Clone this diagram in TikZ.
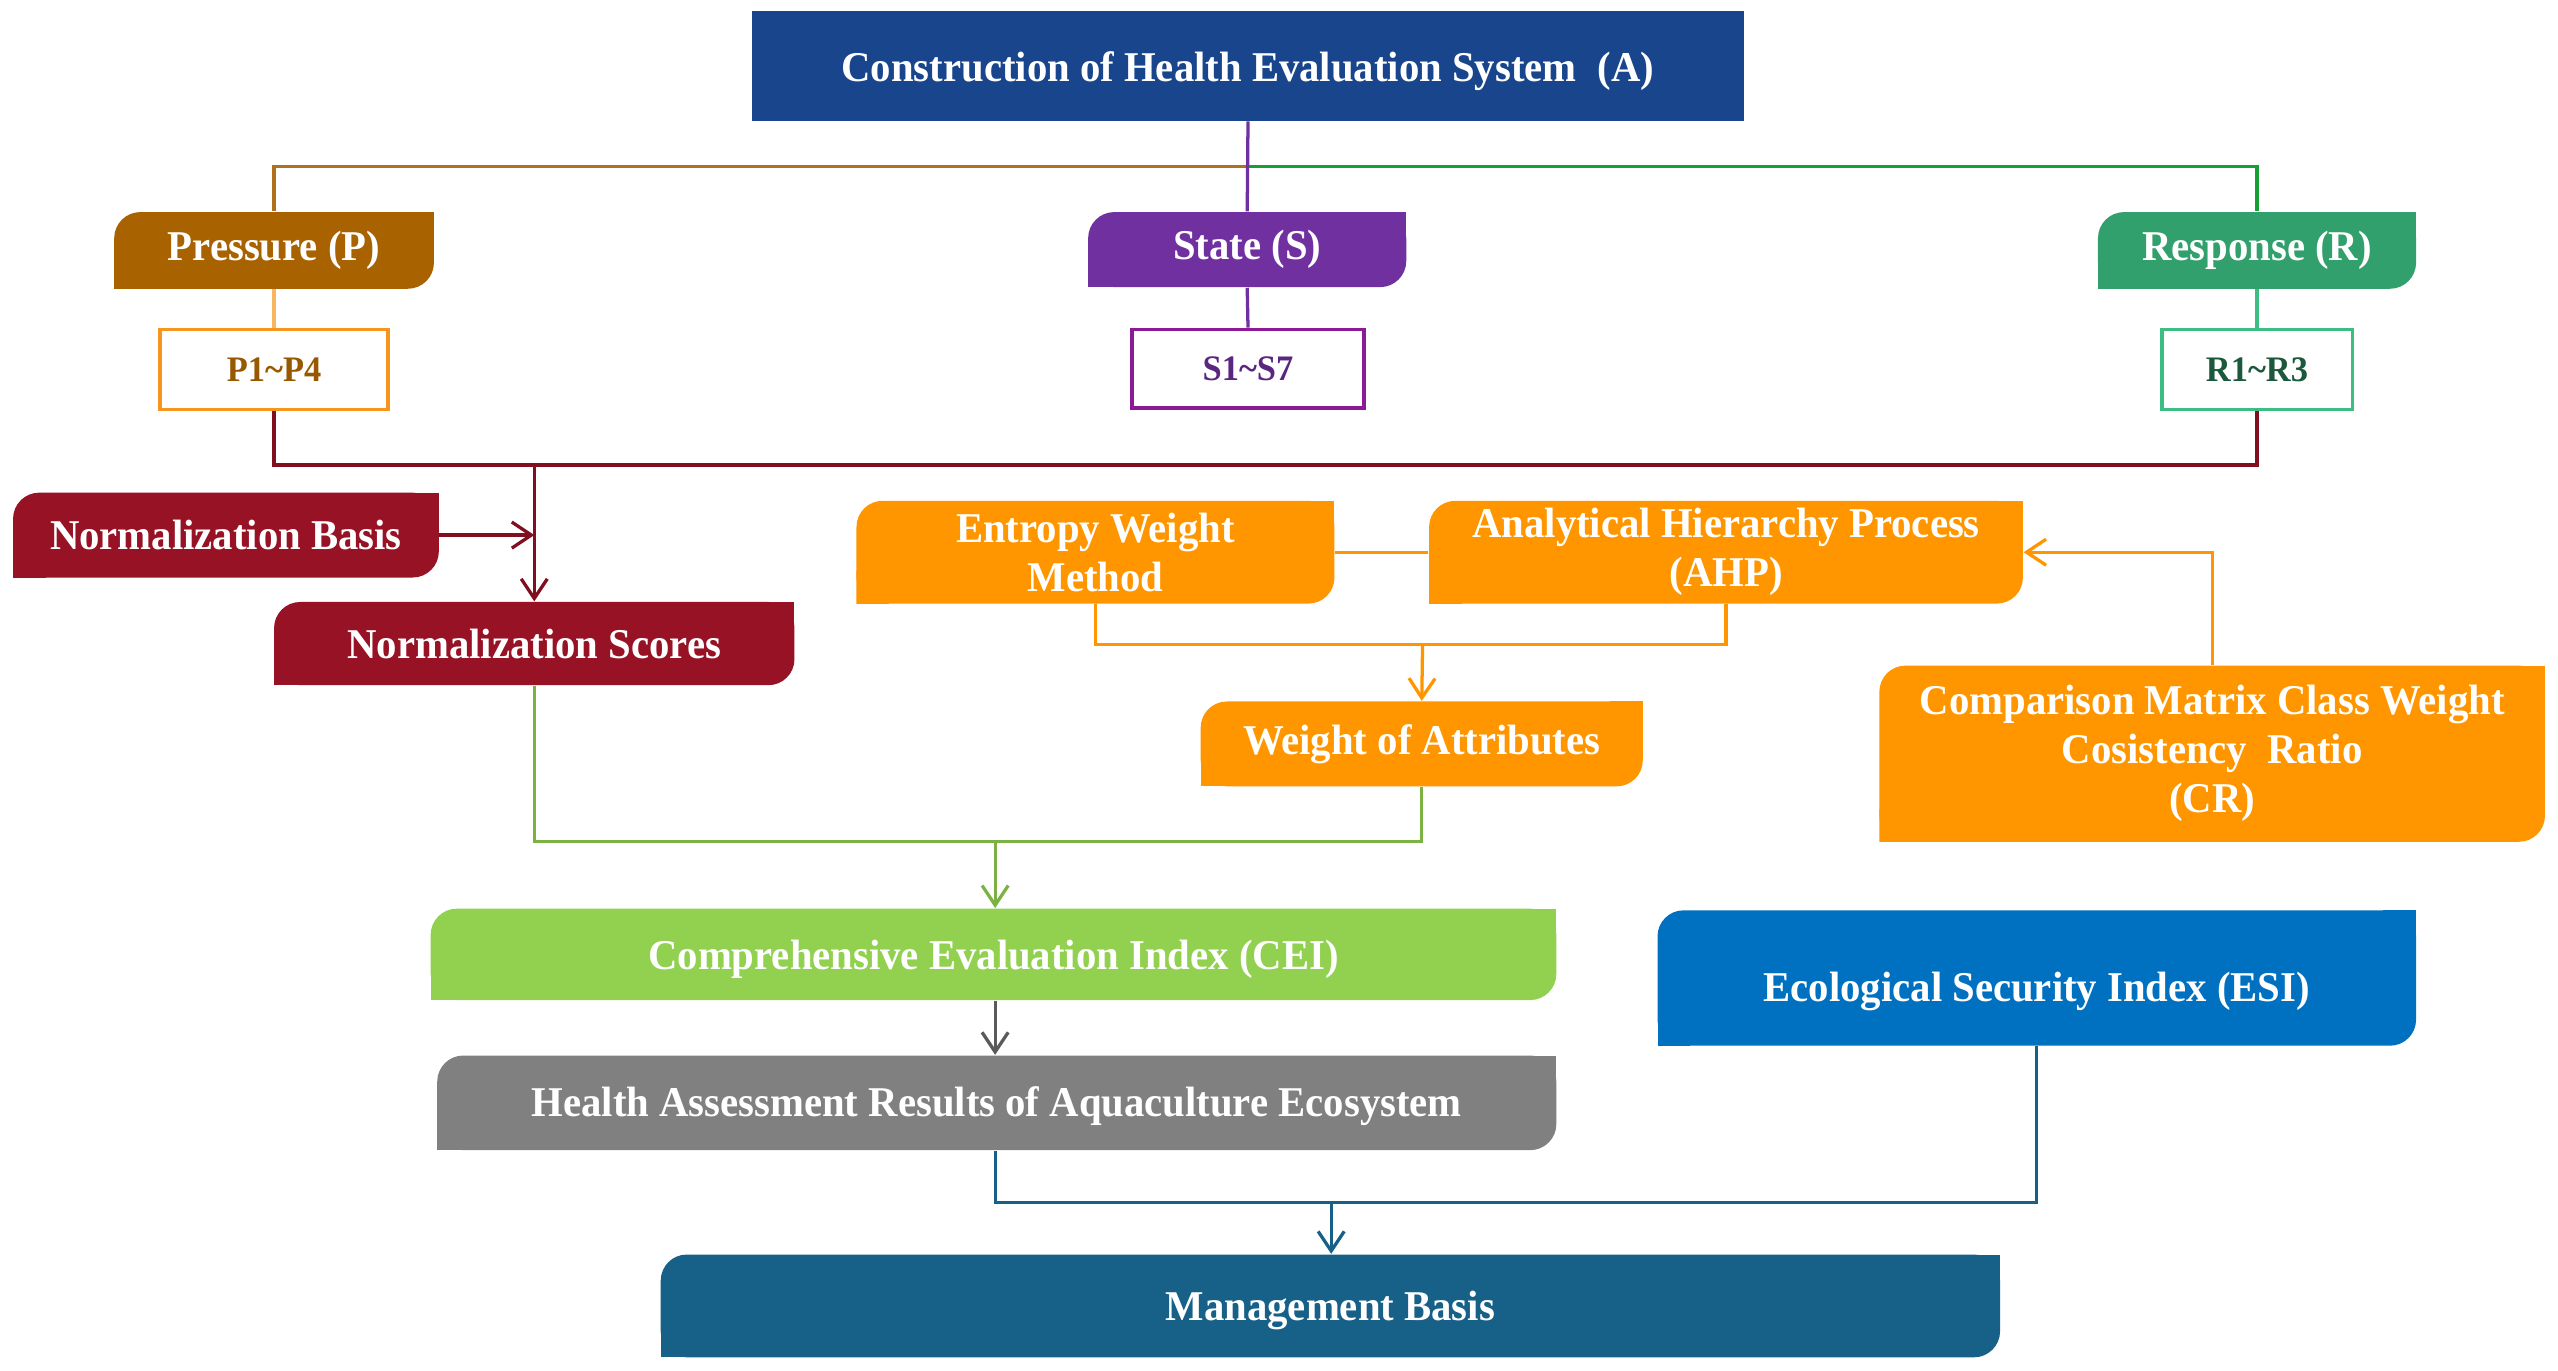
\documentclass[tikz,border=0pt]{standalone}
\usepackage{fontspec}
\setmainfont{Liberation Serif}[FakeStretch=0.96]
\usepackage{tikz}
\usetikzlibrary{arrows.meta,calc,positioning}
\usepackage{xcolor}
\definecolor{Titre}{RGB}{24,69,140}
\definecolor{Pression}{RGB}{168,98,0}
\definecolor{Etat}{RGB}{112,48,160}
\definecolor{Reponse}{RGB}{50,160,108}
\definecolor{Brun}{RGB}{176,112,30}
\definecolor{Vert}{RGB}{20,160,50}
\definecolor{OrangeClair}{RGB}{247,150,30}
\definecolor{Violet}{RGB}{140,25,150}
\definecolor{VertClair}{RGB}{60,190,130}
\definecolor{Bordeaux}{RGB}{150,18,36}
\definecolor{Orange}{RGB}{255,150,0}
\definecolor{VertPomme}{RGB}{146,208,80}
\definecolor{Gris}{RGB}{128,128,128}
\definecolor{Bleu}{RGB}{0,112,192}
\definecolor{BleuNuit}{RGB}{23,96,135}
\newcommand{\abaisse}[2]{\raisebox{-#1}[\height][\depth]{#2}}

\tikzset{
  fleche/.style={-{Straight Barb[length=6pt,width=8pt]}},
  lien/.style={line width=1pt},
  boite/.style={inner sep=0pt, text=white, align=center,
    font=\bfseries\fontsize{13}{15}\selectfont,
    path picture={
      \fill[#1, rounded corners=8pt] (path picture bounding box.south west) rectangle (path picture bounding box.north east);
      \fill[#1] (path picture bounding box.north east) rectangle ++(-10pt,-10pt);
      \fill[#1] (path picture bounding box.south west) rectangle ++(10pt,10pt);
    }},
  cadre/.style={draw=#1, line width=1.2pt, fill=white, inner sep=0pt,
    font=\bfseries\fontsize{11}{13}\selectfont}
}

\begin{document}
\begin{tikzpicture}[x=0.5pt,y=-0.5pt]
\useasboundingbox (0,0) rectangle (1568,840);
%
% niveau A, P, S, R
\node (A) at (765,40.5) [fill=Titre, text=white, minimum width=304pt, minimum height=33.5pt,
  inner sep=0pt, font=\bfseries\fontsize{13}{15}\selectfont] {\abaisse{1.5pt}{Construction of Health Evaluation System\enspace(A)}};
\node (P) at (168,153.5) [boite=Pression, minimum width=98pt, minimum height=23.5pt] {Pressure (P)};
\node (S) at (764.5,153) [boite=Etat, minimum width=97.5pt, minimum height=23pt] {State (S)};
\node (R) at (1383.5,153.5) [boite=Reponse, minimum width=97.5pt, minimum height=23.5pt] {Response (R)};
\coordinate (haut) at (765,102);
\draw[lien,Brun] (haut) -| (P.north);
\draw[lien,Vert] (haut) -| (R.north);
\draw[lien,Etat] (A.south) -- (S.north);
%
% indicateurs
\node (P1) at (168,226.5) [cadre=OrangeClair, minimum width=70pt, minimum height=24.5pt, text=Pression!90!black] {P1\textasciitilde P4};
\node (S1) at (765,226) [cadre=Violet, minimum width=71pt, minimum height=24pt, text=Etat!80!black] {S1\textasciitilde S7};
\node (R1) at (1383.5,226.5) [cadre=VertClair, minimum width=58.5pt, minimum height=24.5pt, text=Reponse!55!black] {R1\textasciitilde R3};
\draw[lien,OrangeClair!70] (P.south) -- (P1.north);
\draw[lien,Etat] (S.south) -- (S1.north);
\draw[lien,VertClair] (R.south) -- (R1.north);
\coordinate (barre) at (765,285);
\draw[lien,Bordeaux!85!black] (P1.south) |- (barre) -| (R1.south);
%
% normalisation
\node (NB) at (138.5,328) [boite=Bordeaux, minimum width=130.5pt, minimum height=26pt] {Normalization Basis};
\node (NS) at (327.5,394.5) [boite=Bordeaux, minimum width=159.5pt, minimum height=25.5pt] {Normalization Scores};
\draw[lien,fleche,Bordeaux!85!black] (NS.north |- barre) -- (NS.north);
\draw[lien,fleche,Bordeaux!85!black] (NB.east) -- (NS.north |- NB.east);
%
% poids
\node (EW) at (671.5,338.5) [boite=Orange, minimum width=146.5pt, minimum height=31.5pt] {Entropy Weight\\Method};
\node (AHP) at (1058,338.5) [boite=Orange, minimum width=182pt, minimum height=31.5pt] {Analytical Hierarchy Process\\(AHP)};
\node (WA) at (871.5,456) [boite=Orange, minimum width=135.5pt, minimum height=26pt] {Weight of Attributes};
\node (CR) at (1356,462) [boite=Orange, minimum width=204pt, minimum height=54pt] {Comparison Matrix Class Weight\\Cosistency\ \ Ratio\\(CR)};
\coordinate (poids) at (872,395);
\draw[lien,Orange] (EW.east) -- (AHP.west);
\draw[lien,Orange] (EW.south) |- (poids) -| (AHP.south);
\draw[lien,fleche,Orange] (poids) -- (WA.north);
\draw[lien,fleche,Orange] (CR.north) |- (AHP.east);
%
% evaluation
\node (CEI) at (609,585) [boite=VertPomme, minimum width=345pt, minimum height=28pt] {\abaisse{1.5pt}{Comprehensive Evaluation Index (CEI)}};
\node (HA) at (611,676) [boite=Gris, minimum width=343pt, minimum height=29pt] {\abaisse{1pt}{Health Assessment Results of Aquaculture Ecosystem}};
\node (ESI) at (1248.5,599.5) [boite=Bleu, minimum width=232.5pt, minimum height=41.5pt] {\abaisse{4pt}{Ecological Security Index (ESI)}};
\node (MB) at (815.5,800.5) [boite=BleuNuit, minimum width=410.5pt, minimum height=31.5pt] {\abaisse{1.5pt}{Management Basis}};
\coordinate (vert) at (610,516);
\coordinate (bas) at (816,737);
\draw[lien,VertPomme!85!black] (NS.south) |- (vert) -| (WA.south);
\draw[lien,fleche,VertPomme!85!black] (vert) -- (CEI.north -| vert);
\draw[lien,fleche,Gris!70!black] (CEI.south -| vert) -- (HA.north -| vert);
\draw[lien,BleuNuit] (HA.south -| vert) |- (bas) -| (ESI.south);
\draw[lien,fleche,BleuNuit] (bas) -- (MB.north -| bas);
%
\end{tikzpicture}
\end{document}
